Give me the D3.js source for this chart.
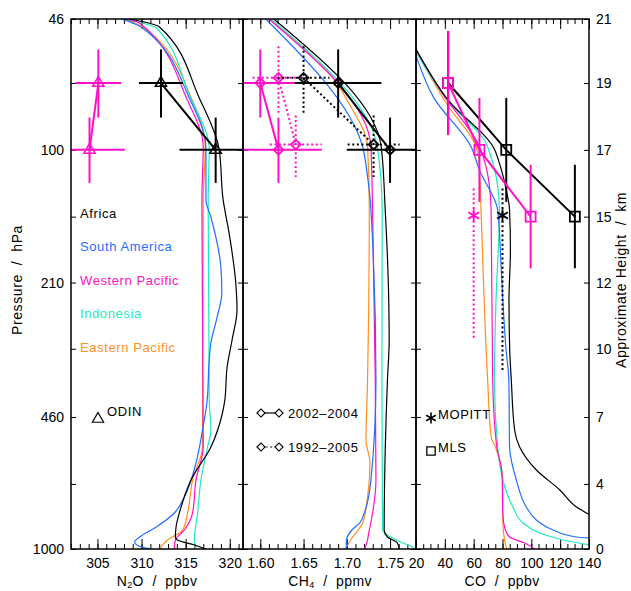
<!DOCTYPE html>
<html><head><meta charset="utf-8">
<script src="https://cdn.jsdelivr.net/npm/d3@7"></script>
<style>
body{margin:0;background:#fff;}
text{font-family:"Liberation Sans",Arial,sans-serif;}
</style></head><body>
<svg id="c" width="631" height="591"></svg>
<script>
// ---------- DATA ----------
const regions = ["Africa","South America","Western Pacific","Indonesia","Eastern Pacific"];
const regionColors = ["#000000","#1f6fff","#ff10c8","#1de9c0","#ff8f1f"];

const heightTicks = [0,4,7,10,12,15,17,19,21];
const heightTickPressure = [1000,687,467,315,215,147,100,68,47];
const pressureLabelHeights = [0,7,12,17,21];
const pressureLabels = ["1000","460","210","100","46"];

const n2oTicks = [305,310,315,320];
const ch4Ticks = [1.60,1.65,1.70,1.75];
const coTicks = [20,40,60,80,100,120,140];

// model profiles: [pressure hPa, value]
const n2oAfrica = [[47,308.65],[49.2,312.03],[74.1,316.54],[99.5,318.79],[133.5,319.25],[161.5,319.92],[215.5,320.68],[251.9,320.82],[299.5,320.26],[349.9,319.7],[423.3,319.44],[456.3,319.17],[555.2,317.86],[671.6,315.6],[784.8,314.48],[880.8,313.91],[933.1,313.83],[949.4,314.06],[977.2,315.98],[1000,317.3]];
const n2oSouthAmerica = [[47,307.75],[49.5,310.12],[74.1,315.41],[99.5,317.3],[133.5,317.3],[147.3,317.86],[196.6,318.99],[228.3,319.1],[262.2,318.57],[304.7,317.86],[336.1,317.67],[423.3,317.44],[503.3,316.91],[608.9,316.17],[740.8,314.85],[812.4,313.72],[880.8,311.66],[933.1,309.78],[960.4,309.21],[988.5,309.97],[1000,311.1]];
const n2oWesternPacific = [[47,308.09],[48.1,309.78],[75,315.19],[98.3,316.99],[133.5,316.84],[555.2,316.99],[671.6,316.17],[812.4,315.78],[896.2,314.85],[949.4,313.83],[988.5,313.72],[1000,313.83]];
const n2oIndonesia = [[47,307.86],[49.5,311.69],[72.9,315.41],[99.5,317.67],[133.5,317.55],[423.3,317.67],[503.3,317.86],[555.2,317.48],[671.6,316.73],[812.4,316.35],[949.4,315.98],[1000,316.17]];
const n2oEasternPacific = [[47,307.97],[49.5,310.34],[74.1,315.64],[98.3,317.22],[133.5,316.99],[555.2,316.91],[671.6,315.78],[812.4,315.22],[896.2,314.66],[949.4,312.97],[988.5,312.22],[1000,312.11]];

const ch4Africa = [[47,1.6156],[98.2,1.7398],[141.4,1.7444],[215.5,1.748],[300,1.749],[377.2,1.747],[896.2,1.7432],[933.1,1.747],[966,1.7585],[1000,1.7605]];
const ch4SouthAmerica = [[47,1.6064],[98.2,1.7183],[116.8,1.7240],[141.4,1.7279],[377.2,1.7337],[671.6,1.7279],[812.4,1.7202],[860,1.7150],[896.2,1.7060],[933.1,1.7005],[960,1.6995],[1000,1.6995]];
const ch4WesternPacific = [[47,1.6099],[98.2,1.7279],[141.4,1.7298],[377.2,1.7329],[671.6,1.7337],[812.4,1.7298],[896.2,1.726],[988.5,1.7214],[1000,1.7202]];
const ch4Indonesia = [[47,1.6122],[98.2,1.7352],[141.4,1.7409],[377.2,1.7406],[896.2,1.7413],[933.1,1.7510],[960.4,1.7620],[986.8,1.7757],[1000,1.7789]];
const ch4EasternPacific = [[47,1.611],[69.5,1.6915],[74.3,1.6992],[98.2,1.724],[141.4,1.726],[377.2,1.724],[533.2,1.7222],[608.9,1.7268],[740.8,1.724],[860.7,1.7183],[933.1,1.7068],[1000,1.6984]];

const coAfrica = [[55.7,19.8],[75,42.3],[99.6,74.4],[108.1,77.9],[126.1,82.6],[141.4,84.9],[178.2,85.5],[237.8,84.5],[317.3,85],[377.2,86.1],[503.3,88.4],[555.2,91.9],[634,103.5],[711.5,119.8],[784.8,131.4],[821.9,140.7]];
const coSouthAmerica = [[57.8,19.8],[74.3,32.6],[98.2,58.2],[112.3,64.0],[141.4,76.7],[178.2,78.5],[237.8,80.2],[317.3,82.5],[377.2,84.4],[555.2,84.9],[671.6,89.6],[784.8,96.5],[846,103.5],[896.2,115.1],[933.1,131.4],[938.5,140.7]];
const coWesternPacific = [[56.0,19.8],[72.2,38.3],[98.2,64.0],[110.2,68.6],[141.4,72.1],[377.2,73.2],[555.2,76.0],[623.1,79.1],[671.6,79.8],[812.4,80.2],[880.8,81.4],[933.1,84.9],[966,95.4],[1000,102.3]];
const coIndonesia = [[56.7,19.8],[74.3,40.7],[98.2,69.7],[141.4,77.9],[237.8,75.5],[377.2,74.4],[555.2,76.7],[671.6,80.2],[784.8,87.2],[860.7,94.2],[911.8,105.8],[949.4,122.1],[977.2,140.7]];
const coEasternPacific = [[56.2,19.8],[77.2,41.8],[98.2,61.7],[110.2,64.0],[141.4,65.1],[377.2,69.7],[524.1,72.1],[555.2,75.1],[598.4,77.9],[671.6,80.2],[846,80.2],[949.4,81.4],[1000,83.0]];

// ODIN N2O
const odinP = [68,100];
const odinPRange = [[56,83],[83,121]];
const n2oOdinAfrica = [312.2,318.4];
const n2oOdinAfricaErr = [2.5,4.1];
const n2oOdinWPac = [305.1,304.1];
const n2oOdinWPacErr = [2.6,4.0];

// CH4 2002-2004 (solid) and 1992-2005 (dotted)
const ch4P0204 = [68,100];
const ch4PRange0204 = [[56,83],[83,121]];
const ch4Africa0204 = [1.690,1.750];
const ch4Africa0204Err = [0.05,0.05];
const ch4WPac0204 = [1.600,1.621];
const ch4WPac0204Err = [0.046,0.05];
const ch4P9205 = [66,97];
const ch4PRange9205 = [[55,81],[82,117]];
const ch4Africa9205 = [1.650,1.731];
const ch4Africa9205Err = [0.03,0.03];
const ch4WPac9205 = [1.621,1.641];
const ch4WPac9205Err = [0.03,0.03];

// CO MLS and MOPITT
const mlsP = [68,100,147];
const mlsPRange = [[50.4,91.8],[74.1,135],[109,198]];
const coMlsAfrica = [42.3,82.6,130.2];
const coMlsWPac = [42.3,64.0,99.5];
const mopittP = [146];
const coMopittAfrica = [80];
const coMopittWPac = [60];
const mopittPRangeAfrica = [[125,356]];
const mopittPRangeWPac = [[125,300]];

// ---------- DRAW ----------
const svg = d3.select("#c");
const TOP = 19, BOT = 549;
const y = d3.scaleLog().domain([1000,47]).range([BOT,TOP]);
const hScale = d3.scaleLinear().domain(heightTicks).range(heightTickPressure.map(p=>y(p)));

const panels = [
  {x0:71,x1:243,domain:[302,321.5],ticks:n2oTicks,minor:d3.range(302,322,1),fmt:d3.format("d"),
   profiles:[n2oAfrica,n2oSouthAmerica,n2oWesternPacific,n2oIndonesia,n2oEasternPacific],
   title:["N","2","O  /  ppbv"],tcx:157},
  {x0:243,x1:416,domain:[1.58,1.78],ticks:ch4Ticks,minor:d3.range(158,179,1).map(d=>d/100),fmt:d3.format(".2f"),
   profiles:[ch4Africa,ch4SouthAmerica,ch4WesternPacific,ch4Indonesia,ch4EasternPacific],
   title:["CH","4","  /  ppmv"],tcx:330},
  {x0:416,x1:589,domain:[20,140],ticks:coTicks,minor:d3.range(20,141,5),fmt:d3.format("d"),
   profiles:[coAfrica,coSouthAmerica,coWesternPacific,coIndonesia,coEasternPacific],
   title:["CO  /  ppbv"],tcx:502}
];

const defs = svg.append("defs");
panels.forEach((P,i)=>{
  P.x = d3.scaleLinear().domain(P.domain).range([P.x0,P.x1]);
  defs.append("clipPath").attr("id","clip"+i).append("rect")
    .attr("x",P.x0).attr("y",TOP).attr("width",P.x1-P.x0).attr("height",BOT-TOP);
});

function styleAxis(g){
  g.select(".domain").remove();
  g.selectAll(".tick line").attr("stroke","#000").attr("stroke-width",1);
  g.selectAll(".tick text").attr("font-size",14).attr("fill","#000")
   .attr("font-family","Liberation Sans, Arial, sans-serif");
}

panels.forEach((P,i)=>{
  const x = P.x;
  svg.append("g").attr("transform",`translate(0,${BOT})`)
    .call(d3.axisBottom(x).tickValues(P.minor).tickSize(-5).tickFormat("")).call(styleAxis);
  svg.append("g").attr("transform",`translate(0,${BOT})`)
    .call(d3.axisBottom(x).tickValues(P.ticks).tickSize(-10).tickPadding(9).tickFormat(P.fmt)).call(styleAxis);
  svg.append("g").attr("transform",`translate(0,${TOP})`)
    .call(d3.axisTop(x).tickValues(P.minor).tickSize(-5).tickFormat("")).call(styleAxis);
  svg.append("g").attr("transform",`translate(0,${TOP})`)
    .call(d3.axisTop(x).tickValues(P.ticks).tickSize(-10).tickFormat("")).call(styleAxis);
  const la = d3.axisLeft(hScale).tickValues(heightTicks).tickSize(-5).tickPadding(7);
  if(i===0){
    la.tickFormat(h=>{const k=pressureLabelHeights.indexOf(h);return k>=0?pressureLabels[k]:"";});
  } else la.tickFormat("");
  svg.append("g").attr("transform",`translate(${P.x0},0)`).call(la).call(styleAxis);
  const ra = d3.axisRight(hScale).tickValues(heightTicks).tickSize(-5).tickPadding(7);
  if(i===2) ra.tickFormat(d3.format("d")); else ra.tickFormat("");
  svg.append("g").attr("transform",`translate(${P.x1},0)`).call(ra).call(styleAxis);

  const t = svg.append("text").attr("x",P.tcx).attr("y",586).attr("text-anchor","middle")
    .attr("font-size",14).attr("letter-spacing",0.4).attr("xml:space","preserve").style("white-space","pre");
  if(P.title.length===3){
    t.append("tspan").text(P.title[0]);
    t.append("tspan").text(P.title[1]).attr("font-size",9).attr("dy",2);
    t.append("tspan").text(P.title[2]).attr("dy",-2);
  } else t.text(P.title[0]);

  const gp = svg.append("g").attr("clip-path",`url(#clip${i})`);
  const line = d3.line().x(d=>x(d[1])).y(d=>y(d[0])).curve(d3.curveMonotoneY);
  [4,3,2,1,0].forEach(k=>{
    gp.append("path").datum(P.profiles[k]).attr("d",line)
      .attr("fill","none").attr("stroke",regionColors[k]).attr("stroke-width",1.2);
  });
  P.gd = svg.append("g").attr("clip-path",`url(#clip${i})`);
});

panels.forEach(P=>{
  svg.append("rect").attr("x",P.x0).attr("y",TOP).attr("width",P.x1-P.x0).attr("height",BOT-TOP)
    .attr("fill","none").attr("stroke","#000").attr("stroke-width",1.5);
});

const triangle = d3.symbol().type(d3.symbolTriangle).size(55);
const diamond = d3.symbol().type(d3.symbolSquare).size(48);
const square = d3.symbol().type(d3.symbolSquare).size(100);
const asterisk = d3.symbol().type(d3.symbolAsterisk).size(110);

function drawSeries(P, o){
  const g = P.gd, x = P.x;
  const pts = o.p.map((p,k)=>({p:p,v:o.v[k],e:o.err?o.err[k]:null,r:o.range?o.range[k]:null}));
  const dash = o.dotted ? "2,2.6" : null;
  if(pts.length>1){
    g.append("path").datum(pts).attr("d",d3.line().x(d=>x(d.v)).y(d=>y(d.p)))
      .attr("fill","none").attr("stroke",o.color).attr("stroke-width",2).attr("stroke-dasharray",dash);
  }
  pts.forEach(d=>{
    if(d.e!==null){
      g.append("line").attr("x1",x(d.v-d.e)).attr("x2",x(d.v+d.e)).attr("y1",y(d.p)).attr("y2",y(d.p))
        .attr("stroke",o.color).attr("stroke-width",2).attr("stroke-dasharray",dash);
    }
    if(d.r){
      g.append("line").attr("x1",x(d.v)).attr("x2",x(d.v)).attr("y1",y(d.r[0])).attr("y2",y(d.r[1]))
        .attr("stroke",o.color).attr("stroke-width",2).attr("stroke-dasharray",dash);
    }
    if(o.symbol){
      g.append("path").attr("d",o.symbol).attr("transform",`translate(${x(d.v)},${y(d.p)}) rotate(${o.rot||0})`)
        .attr("fill","none").attr("stroke",o.color).attr("stroke-width",o.sw||1.8);
    }
  });
}

const MAG = regionColors[2], BLK = regionColors[0];
drawSeries(panels[0],{p:odinP,v:n2oOdinWPac,err:n2oOdinWPacErr,range:odinPRange,color:MAG,symbol:triangle,sw:1.5});
drawSeries(panels[0],{p:odinP,v:n2oOdinAfrica,err:n2oOdinAfricaErr,range:odinPRange,color:BLK,symbol:triangle,sw:1.5});
drawSeries(panels[1],{p:ch4P9205,v:ch4WPac9205,err:ch4WPac9205Err,range:ch4PRange9205,color:MAG,dotted:true,symbol:diamond,rot:45});
drawSeries(panels[1],{p:ch4P9205,v:ch4Africa9205,err:ch4Africa9205Err,range:ch4PRange9205,color:BLK,dotted:true,symbol:diamond,rot:45});
drawSeries(panels[1],{p:ch4P0204,v:ch4WPac0204,err:ch4WPac0204Err,range:ch4PRange0204,color:MAG,symbol:diamond,rot:45});
drawSeries(panels[1],{p:ch4P0204,v:ch4Africa0204,err:ch4Africa0204Err,range:ch4PRange0204,color:BLK,symbol:diamond,rot:45});
drawSeries(panels[2],{p:mopittP,v:coMopittWPac,range:mopittPRangeWPac,color:MAG,dotted:true,symbol:asterisk,sw:1.8});
drawSeries(panels[2],{p:mopittP,v:coMopittAfrica,range:mopittPRangeAfrica,color:BLK,dotted:true,symbol:asterisk,sw:1.8});
drawSeries(panels[2],{p:mlsP,v:coMlsAfrica,range:mlsPRange,color:BLK,symbol:square});
drawSeries(panels[2],{p:mlsP,v:coMlsWPac,range:mlsPRange,color:MAG,symbol:square});

const legY = [213,246,280,313,347];
regions.forEach((r,k)=>{
  svg.append("text").attr("x",80).attr("y",legY[k]+5).attr("font-size",13).attr("letter-spacing",0.6)
    .attr("fill",regionColors[k]).text(r);
});
svg.append("path").attr("d",triangle).attr("transform","translate(98,419)").attr("fill","none").attr("stroke","#000").attr("stroke-width",1.2);
svg.append("text").attr("x",107).attr("y",416).attr("font-size",13).attr("letter-spacing",0.6).text("ODIN");
[[413,null,"2002–2004"],[447,"2,2.6","1992–2005"]].forEach(([yy,dash,lab])=>{
  svg.append("line").attr("x1",261).attr("x2",279).attr("y1",yy).attr("y2",yy).attr("stroke","#000").attr("stroke-width",1.2).attr("stroke-dasharray",dash);
  [261,279].forEach(xx=>svg.append("path").attr("d",d3.symbol().type(d3.symbolSquare).size(32)).attr("transform",`translate(${xx},${yy}) rotate(45)`).attr("fill","#fff").attr("stroke","#000").attr("stroke-width",1.2));
  svg.append("text").attr("x",288).attr("y",yy+5).attr("font-size",13).attr("letter-spacing",0.6).text(lab);
});
svg.append("path").attr("d",d3.symbol().type(d3.symbolAsterisk).size(85)).attr("transform","translate(431,418)").attr("fill","none").attr("stroke","#000").attr("stroke-width",1.6);
svg.append("text").attr("x",438).attr("y",419).attr("font-size",13).attr("letter-spacing",0.6).text("MOPITT");
svg.append("path").attr("d",d3.symbol().type(d3.symbolSquare).size(70)).attr("transform","translate(431,451)").attr("fill","none").attr("stroke","#000").attr("stroke-width",1.3);
svg.append("text").attr("x",438).attr("y",452).attr("font-size",13).attr("letter-spacing",0.6).text("MLS");

svg.append("text").attr("transform","translate(22,280) rotate(-90)").attr("text-anchor","middle")
  .attr("font-size",14).attr("letter-spacing",0.6).attr("xml:space","preserve").style("white-space","pre").text("Pressure  /  hPa");
svg.append("text").attr("transform","translate(626,280) rotate(-90)").attr("text-anchor","middle")
  .attr("font-size",14).attr("letter-spacing",0.6).attr("xml:space","preserve").style("white-space","pre").text("Approximate Height  /  km");
</script>
</body></html>
